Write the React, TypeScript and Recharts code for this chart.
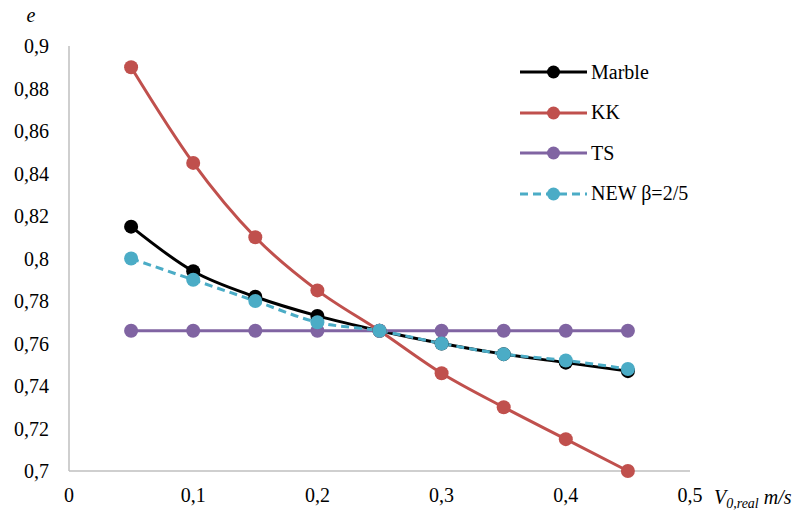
import React from "react";
import { LineChart, Line, XAxis, YAxis, Legend } from "recharts";

const speeds = [0.05, 0.1, 0.15, 0.2, 0.25, 0.3, 0.35, 0.4, 0.45];
const marble = [0.815, 0.794, 0.782, 0.773, 0.766, 0.76, 0.755, 0.751, 0.747];
const kk = [0.89, 0.845, 0.81, 0.785, 0.766, 0.746, 0.73, 0.715, 0.7];
const ts = [0.766, 0.766, 0.766, 0.766, 0.766, 0.766, 0.766, 0.766, 0.766];
const newBeta = [0.8, 0.79, 0.78, 0.77, 0.766, 0.76, 0.755, 0.752, 0.748];

const xTicks = [0, 0.1, 0.2, 0.3, 0.4, 0.5];
const yTicks = [0.7, 0.72, 0.74, 0.76, 0.78, 0.8, 0.82, 0.84, 0.86, 0.88, 0.9];

const series = [
  { key: "marble", name: "Marble", color: "#000000", dash: undefined },
  { key: "kk", name: "KK", color: "#C0504D", dash: undefined },
  { key: "ts", name: "TS", color: "#8064A2", dash: undefined },
  { key: "newBeta", name: "NEW β=2/5", color: "#4BACC6", dash: "8 5" },
];

const data = speeds.map((v, i) => ({
  v,
  marble: marble[i],
  kk: kk[i],
  ts: ts[i],
  newBeta: newBeta[i],
}));

const FONT = "'Liberation Serif', 'Times New Roman', serif";
const comma = (v: number) => String(v).replace(".", ",");

const LegendBox = () => (
  <div style={{ fontFamily: FONT, fontSize: 20, color: "#000" }}>
    {series.map((s) => (
      <div key={s.key} style={{ display: "flex", alignItems: "center", height: 40.5 }}>
        <svg width={72} height={20}>
          <line
            x1={1}
            x2={68}
            y1={10}
            y2={10}
            stroke={s.color}
            strokeWidth={3}
            strokeDasharray={s.dash}
          />
          <circle cx={34.5} cy={10} r={6.5} fill={s.color} />
        </svg>
        <span>{s.name}</span>
      </div>
    ))}
  </div>
);

export default function App() {
  return (
    <div style={{ position: "absolute", left: 0, top: 0 }}>
      <LineChart
        width={804}
        height={512}
        data={data}
        margin={{ top: 46, right: 114, left: 0, bottom: 0 }}
      >
        <XAxis
          dataKey="v"
          type="number"
          domain={[0, 0.5]}
          ticks={xTicks}
          tickFormatter={comma}
          axisLine={{ stroke: "#BFBFBF", strokeWidth: 1.5 }}
          tickLine={false}
          tickMargin={11}
          height={41}
          tick={{ fontSize: 20, fill: "#000", style: { fontFamily: FONT } }}
          label={{
            content: (props: any) => {
              const vb = props.viewBox || {};
              return (
                <text
                  x={vb.x + vb.width + 24}
                  y={vb.y + 33}
                  style={{ fontFamily: FONT }}
                  fontSize={20}
                  fontStyle="italic"
                  fill="#000"
                >
                  V
                  <tspan fontSize={14} dy={4}>0,real</tspan>
                  <tspan fontSize={20} dy={-4}> m/s</tspan>
                </text>
              );
            },
          }}
        />
        <YAxis
          type="number"
          domain={[0.7, 0.9]}
          ticks={yTicks}
          tickFormatter={comma}
          axisLine={{ stroke: "#BFBFBF", strokeWidth: 1.5 }}
          tickLine={false}
          tickMargin={14}
          width={69}
          interval={0}
          tick={{ fontSize: 20, fill: "#000", style: { fontFamily: FONT } }}
          label={{
            content: (props: any) => {
              const vb = props.viewBox || {};
              return (
                <text
                  x={vb.x + 31}
                  y={vb.y - 24}
                  textAnchor="middle"
                  style={{ fontFamily: FONT }}
                  fontSize={20}
                  fontStyle="italic"
                  fill="#000"
                >
                  e
                </text>
              );
            },
          }}
        />
        <Legend
          layout="vertical"
          verticalAlign="middle"
          align="center"
          content={() => <LegendBox />}
          wrapperStyle={{ top: 52, left: 519, width: 220 }}
        />
        {series.map((s) => (
          <Line
            key={s.key}
            type="monotone"
            dataKey={s.key}
            name={s.name}
            stroke={s.color}
            strokeWidth={3}
            strokeDasharray={s.dash}
            dot={{ r: 7, fill: s.color, stroke: s.color, strokeWidth: 0, strokeDasharray: "" }}
            activeDot={false}
            isAnimationActive={false}
          />
        ))}
      </LineChart>
    </div>
  );
}
